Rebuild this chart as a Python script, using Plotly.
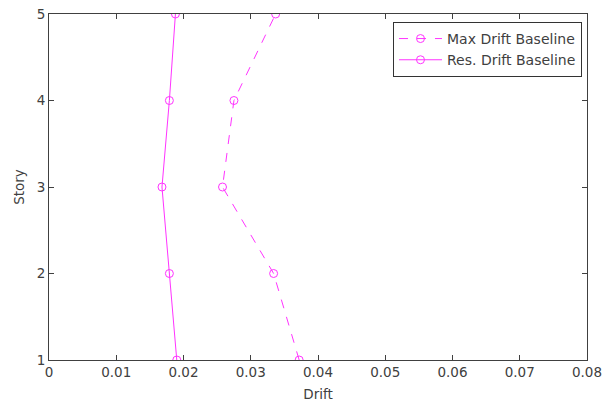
import plotly.graph_objects as go

story = [1, 2, 3, 4, 5]
max_drift = [0.0372, 0.0334, 0.0258, 0.0275, 0.0337]
res_drift = [0.0190, 0.0179, 0.0168, 0.0179, 0.0188]
x_ticks = [0, 0.01, 0.02, 0.03, 0.04, 0.05, 0.06, 0.07, 0.08]
x_tick_text = ["0", "0.01", "0.02", "0.03", "0.04", "0.05", "0.06", "0.07", "0.08"]
y_ticks = [1, 2, 3, 4, 5]

MAGENTA = "#ff33ff"
TEXT = "#404040"

fig = go.Figure()
fig.add_trace(go.Scatter(
    x=max_drift, y=story, mode="lines+markers", name="Max Drift Baseline",
    line=dict(color=MAGENTA, width=1, dash="dash"),
    marker=dict(symbol="circle-open", size=8, color=MAGENTA, line=dict(width=1)),
))
fig.add_trace(go.Scatter(
    x=res_drift, y=story, mode="lines+markers", name="Res. Drift Baseline",
    line=dict(color=MAGENTA, width=1),
    marker=dict(symbol="circle-open", size=8, color=MAGENTA, line=dict(width=1)),
))

axis_common = dict(
    showgrid=False, zeroline=False, showline=True, mirror="ticks",
    linecolor="#404040", linewidth=1, ticks="inside", ticklen=5,
    tickcolor="#404040", tickfont=dict(family="DejaVu Sans", size=13.5, color=TEXT),
    automargin=False,
)
fig.update_layout(
    width=603, height=402, autosize=False,
    margin=dict(l=49, r=16, t=14, b=42, autoexpand=False),
    paper_bgcolor="white", plot_bgcolor="white",
    font=dict(family="DejaVu Sans", size=13.5, color=TEXT),
    xaxis=dict(range=[0, 0.08], tickvals=x_ticks, ticktext=x_tick_text,
               title=dict(text="Drift", standoff=10, font=dict(size=13.5, color=TEXT)),
               **axis_common),
    yaxis=dict(range=[1, 5], tickvals=y_ticks,
               title=dict(text="Story", standoff=8, font=dict(size=13.5, color=TEXT)),
               **axis_common),
    legend=dict(x=0.9907, y=0.977, xanchor="right", yanchor="top",
                bordercolor="#333333", borderwidth=1, bgcolor="white",
                font=dict(family="DejaVu Sans", size=14, color=TEXT),
                itemwidth=43, tracegroupgap=0),
    showlegend=True,
)
# Remove the page's default body margin so the figure sits at the window origin.
fig.write_html("out.html", config={"displayModeBar": False},
               post_script="document.body.style.margin='0';")
